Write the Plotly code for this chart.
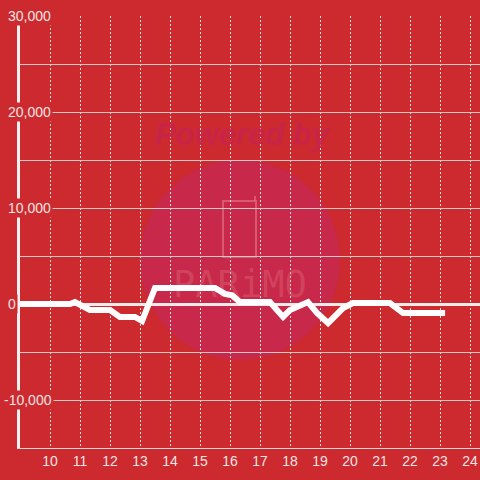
import plotly.graph_objects as go

# ---- data (hours of day, value) ----
hours = [9.0, 10.67, 10.83, 11.33, 12.0, 12.33, 12.83, 13.07, 13.5, 15.5,
         15.83, 16.07, 16.33, 17.33, 17.77, 18.0, 18.6, 18.9, 19.27, 19.77,
         20.1, 21.33, 21.77, 23.17]
values = [0, 0, 200, -625, -625, -1350, -1350, -1770, 1670, 1670,
          1050, 900, 200, 200, -1350, -625, 200, -940, -1980, -420,
          100, 100, -940, -940]

x_ticks = list(range(10, 25))
y_label_vals = [30000, 20000, 10000, 0, -10000]
y_label_text = ["30,000", "20,000", "10,000", "0", "-10,000"]
y_label_centers_px = [29, 29, 29, 12, 27.5]

BG = "#cc2a2f"
TXT = "#f3e4e4"
L, R, T, B = 20, 0, 16, 32
W = H = 480
PW = W - L - R
PH = H - T - B

def px_x(p):
    return (p - L) / PW

def px_y(p):
    return (H - B - p) / PH

fig = go.Figure()

# watermark text (drawn beneath the data line)
fig.add_trace(go.Scatter(
    x=[16.33], y=[1650], mode="text", text=["PARiMO"],
    textfont=dict(family="DejaVu Sans Mono", size=37, color="rgba(228,120,130,0.35)"),
    hoverinfo="skip", showlegend=False))

fig.add_trace(go.Scatter(
    x=hours, y=values, mode="lines",
    line=dict(color="#ffffff", width=6),
    hoverinfo="skip", showlegend=False))

shapes = [
    dict(type="circle", xref="paper", yref="paper", layer="below",
         x0=px_x(140), x1=px_x(340), y0=px_y(360), y1=px_y(160),
         fillcolor="#c8284a", line=dict(width=0)),
    dict(type="rect", xref="paper", yref="paper", layer="below",
         x0=px_x(223), x1=px_x(256), y0=px_y(257), y1=px_y(201),
         fillcolor="rgba(0,0,0,0)", line=dict(color="rgba(226,110,125,0.7)", width=2)),
    dict(type="line", xref="paper", yref="paper", layer="below",
         x0=px_x(255), x1=px_x(255), y0=px_y(201), y1=px_y(196),
         line=dict(color="rgba(226,110,125,0.7)", width=2)),
]

annotations = [
    dict(text="<i><b>Powered by</b></i>", xref="paper", yref="paper",
         x=px_x(243), y=px_y(134), showarrow=False, yanchor="middle",
         font=dict(family="Liberation Sans", size=31, color="rgba(200,36,75,0.9)")),
]
for v, t, c in zip(y_label_vals, y_label_text, y_label_centers_px):
    annotations.append(dict(
        text=t, xref="paper", yref="y", x=px_x(c), y=v, xanchor="center", yanchor="middle",
        showarrow=False, bgcolor=BG, borderpad=1,
        font=dict(family="Liberation Sans", size=14, color=TXT)))

fig.update_layout(
    width=W, height=H,
    margin=dict(l=L, r=R, t=T, b=B, pad=0),
    paper_bgcolor=BG, plot_bgcolor=BG,
    shapes=shapes, annotations=annotations,
    showlegend=False,
    xaxis=dict(
        range=[9, 24.3333], tickmode="array", tickvals=x_ticks,
        ticktext=[str(v) for v in x_ticks],
        showgrid=True, gridcolor="#e6e0e0", gridwidth=1, griddash="2px,2px",
        showline=True, linecolor="#dcd6d6", linewidth=1,
        zeroline=False, ticks="", ticklen=0,
        tickfont=dict(family="Liberation Sans", size=14, color=TXT),
        fixedrange=True),
    yaxis=dict(
        range=[-15000, 30000], dtick=5000, tick0=0,
        showticklabels=False,
        showgrid=True, gridcolor="#cfc9c9", gridwidth=1,
        zeroline=True, zerolinecolor="#f0eaea", zerolinewidth=3,
        showline=True, linecolor="#f4f0f0", linewidth=3,
        ticks="", fixedrange=True),
)

fig.write_html(
    "out.html",
    config={"displayModeBar": False},
    post_script="document.body.style.margin='0';document.body.style.background='" + BG + "';",
)
